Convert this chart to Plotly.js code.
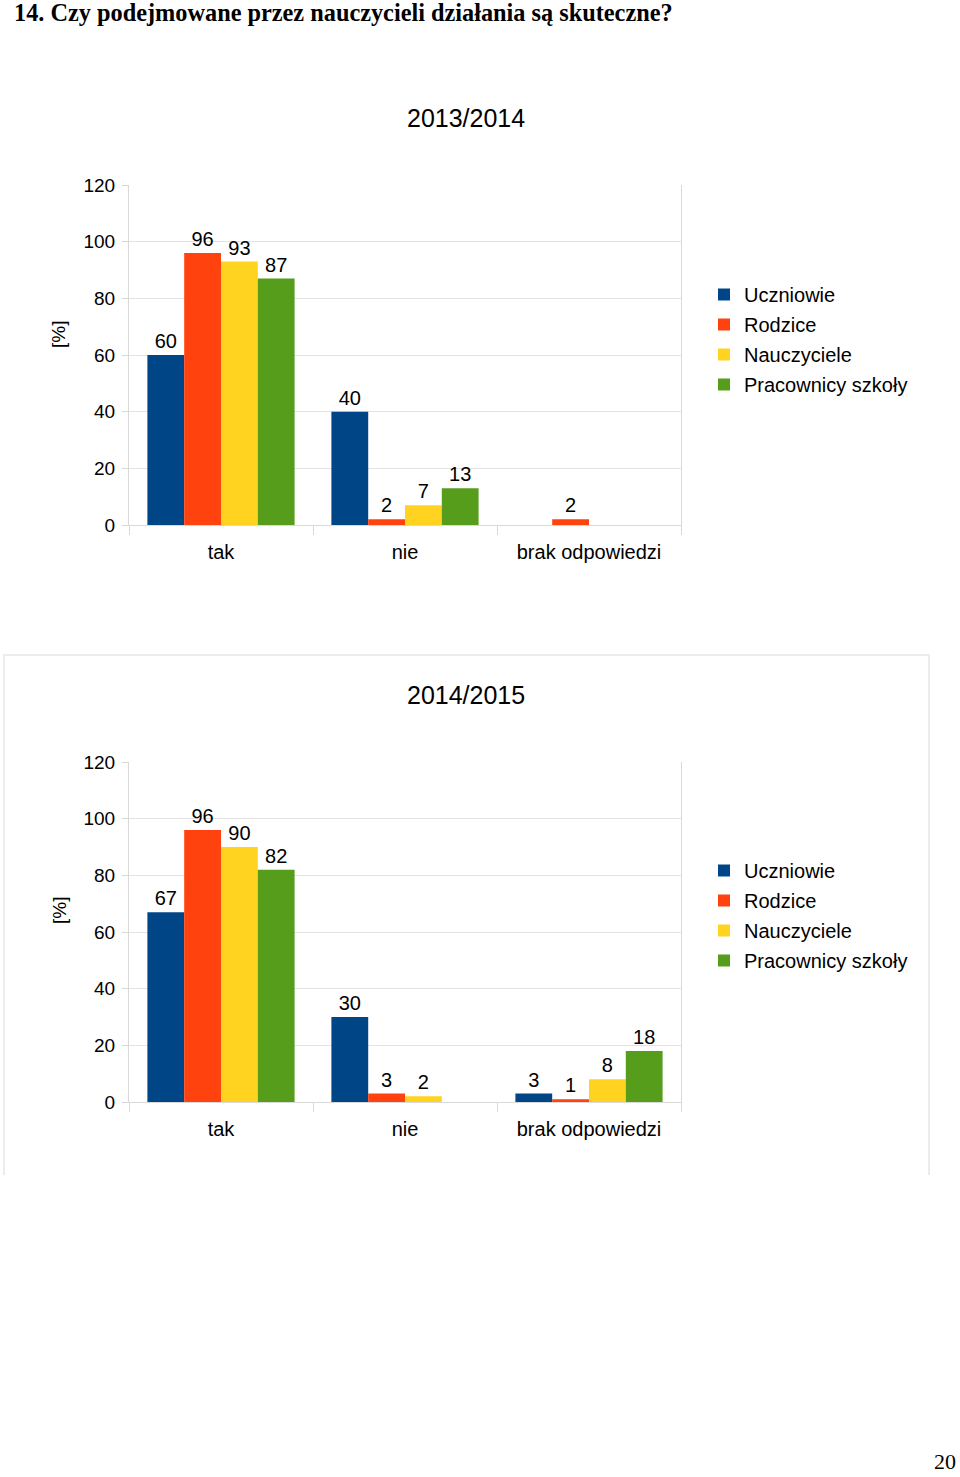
<!DOCTYPE html>
<html>
<head>
<meta charset="utf-8">
<script src="https://cdn.plot.ly/plotly-3.0.1.min.js"></script>
<style>
html,body{margin:0;padding:0;background:#fff;}
#chart{width:960px;height:1477px;}
</style>
</head>
<body>
<div id="chart"></div>
<script>
// ---- data ----
const categories = ["tak", "nie", "brak odpowiedzi"];
const seriesNames = ["Uczniowie", "Rodzice", "Nauczyciele", "Pracownicy szkoły"];
const seriesColors = ["#004586", "#ff420e", "#ffd320", "#579d1c"];
// 2013/2014
const y2013_uczniowie   = [60, 40, null];
const y2013_rodzice     = [96, 2, 2];
const y2013_nauczyciele = [93, 7, null];
const y2013_pracownicy  = [87, 13, null];
// 2014/2015
const y2014_uczniowie   = [67, 30, 3];
const y2014_rodzice     = [96, 3, 1];
const y2014_nauczyciele = [90, 2, 8];
const y2014_pracownicy  = [82, null, 18];
const yTicks = [0, 20, 40, 60, 80, 100, 120];
const chartTitles = ["2013/2014", "2014/2015"];
const pageHeading = "14. Czy podejmowane przez nauczycieli działania są skuteczne?";
const pageNumber = "20";
const yAxisTitle = "[%]";

// ---- layout helpers ----
const W = 960, H = 1477;
const px = v => v / W;
const py = v => 1 - v / H;
const FONT = "Liberation Sans, Arial, sans-serif";
const SERIF = "Liberation Serif, Times New Roman, serif";

const sets = [
  [y2013_uczniowie, y2013_rodzice, y2013_nauczyciele, y2013_pracownicy],
  [y2014_uczniowie, y2014_rodzice, y2014_nauczyciele, y2014_pracownicy]
];

const traces = [];
sets.forEach((set, si) => {
  set.forEach((vals, i) => {
    traces.push({
      type: "bar",
      name: seriesNames[i],
      x: categories,
      y: vals,
      xaxis: si === 0 ? "x" : "x2",
      yaxis: si === 0 ? "y" : "y2",
      legend: si === 0 ? "legend" : "legend2",
      legendgroup: "c" + si + "s" + i,
      marker: {color: seriesColors[i], line: {width: 0}},
      text: vals.map(v => v === null ? "" : String(v)),
      textposition: "outside",
      textfont: {family: FONT, size: 20, color: "#000"},
      constraintext: "none",
      cliponaxis: false,
      hoverinfo: "x+y+name"
    });
  });
});

function xAxis(anchor) {
  return {
    anchor: anchor,
    domain: [px(129), px(681)],
    type: "category",
    range: [-0.5, 2.5],
    showline: true, linecolor: "#d9d9d9", linewidth: 1,
    ticks: "outside", tickson: "boundaries", ticklen: 9, tickcolor: "#d9d9d9",
    ticklabelstandoff: 9,
    tickfont: {family: FONT, size: 20, color: "#000"},
    showgrid: false, zeroline: false, fixedrange: true
  };
}
function yAxis(anchor, top, bottom) {
  return {
    anchor: anchor,
    domain: [py(bottom), py(top)],
    range: [0, 120],
    tickvals: yTicks,
    ticks: "outside", ticklen: 6, tickcolor: "#d9d9d9",
    ticklabelstandoff: 3,
    tickfont: {family: FONT, size: 19, color: "#000"},
    showgrid: true, gridcolor: "#e3e3e3", gridwidth: 1,
    showline: true, linecolor: "#d9d9d9", mirror: true,
    zeroline: false, fixedrange: true
  };
}
function legendBox(topPx) {
  return {
    x: px(704), y: py(topPx), xanchor: "left", yanchor: "top",
    font: {family: FONT, size: 20, color: "#000"},
    bgcolor: "rgba(0,0,0,0)", borderwidth: 0,
    itemclick: false, itemdoubleclick: false,
    traceorder: "grouped", tracegroupgap: 1
  };
}

const layout = {
  width: W, height: H,
  margin: {l: 0, r: 0, t: 0, b: 0},
  paper_bgcolor: "#fff", plot_bgcolor: "#fff",
  barmode: "group", bargap: 0.2, bargroupgap: 0,
  showlegend: true,
  xaxis: xAxis("y"),
  yaxis: yAxis("x", 185, 525),
  xaxis2: xAxis("y2"),
  yaxis2: yAxis("x2", 762, 1102),
  legend: legendBox(275),
  legend2: legendBox(851),
  annotations: [
    {text: "<b>" + pageHeading + "</b>", xref: "paper", yref: "paper", x: px(12), y: py(12),
     xanchor: "left", yanchor: "middle", showarrow: false,
     font: {family: SERIF, size: 24.3, color: "#000"}},
    {text: chartTitles[0], xref: "paper", yref: "paper", x: px(466), y: py(118),
     xanchor: "center", yanchor: "middle", showarrow: false,
     font: {family: FONT, size: 25, color: "#000"}},
    {text: chartTitles[1], xref: "paper", yref: "paper", x: px(466), y: py(695),
     xanchor: "center", yanchor: "middle", showarrow: false,
     font: {family: FONT, size: 25, color: "#000"}},
    {text: yAxisTitle, xref: "paper", yref: "paper", x: px(58), y: py(335),
     xanchor: "center", yanchor: "middle", showarrow: false, textangle: -90,
     font: {family: FONT, size: 19, color: "#000"}},
    {text: yAxisTitle, xref: "paper", yref: "paper", x: px(60), y: py(911),
     xanchor: "center", yanchor: "middle", showarrow: false, textangle: -90,
     font: {family: FONT, size: 19, color: "#000"}},
    {text: pageNumber, xref: "paper", yref: "paper", x: px(945), y: py(1476),
     xanchor: "center", yanchor: "bottom", showarrow: false,
     font: {family: SERIF, size: 22, color: "#000"}}
  ],
  shapes: [
    {type: "path", xref: "paper", yref: "paper",
     path: "M " + px(4) + "," + py(1175) + " L " + px(4) + "," + py(655) +
           " L " + px(929) + "," + py(655) + " L " + px(929) + "," + py(1175),
     line: {color: "#ececec", width: 2}, fillcolor: "rgba(0,0,0,0)"}
  ]
};

Plotly.newPlot("chart", traces, layout, {displayModeBar: false, responsive: false});
</script>
</body>
</html>
